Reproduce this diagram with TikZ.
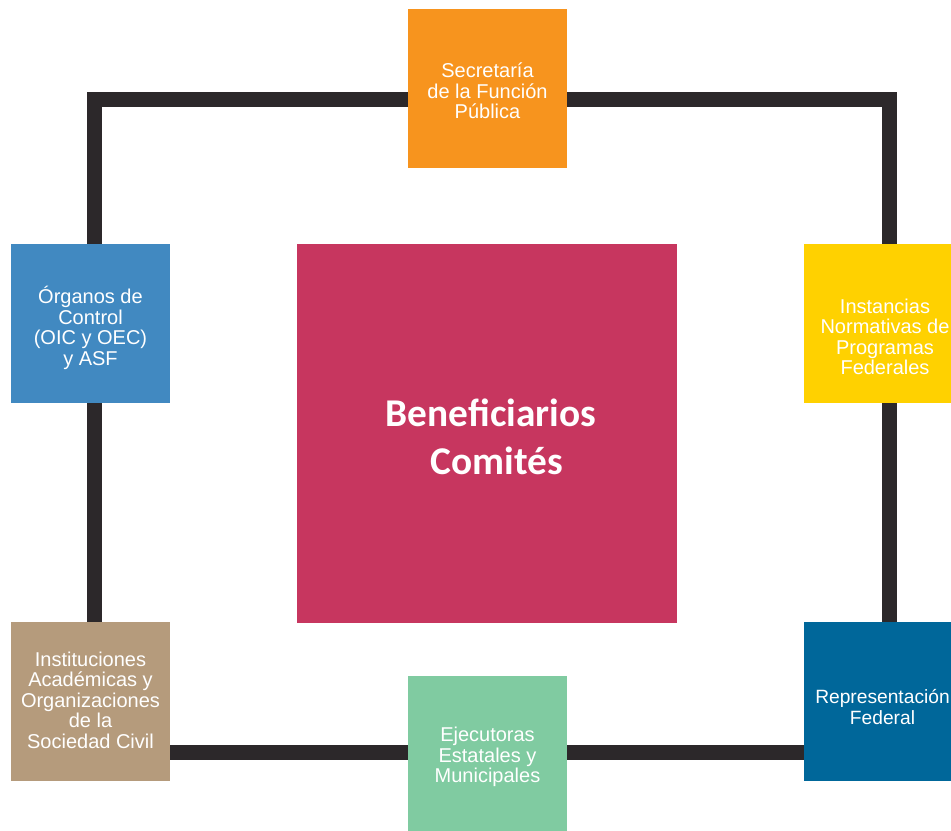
\documentclass[tikz,border=0pt]{standalone}
\usepackage{fontspec}
\setmainfont{Liberation Sans}
\newfontfamily\titlefont{Carlito}
\usepackage{tikz}
\usetikzlibrary{positioning}

\definecolor{frameGray}{RGB}{44,40,42}
\definecolor{sfpOrange}{RGB}{247,148,30}
\definecolor{oicBlue}{RGB}{65,137,193}
\definecolor{normYellow}{RGB}{255,209,0}
\definecolor{osTan}{RGB}{181,155,124}
\definecolor{repBlue}{RGB}{0,103,154}
\definecolor{ejeGreen}{RGB}{128,203,161}
\definecolor{benCrimson}{RGB}{199,54,95}

\tikzset{
	unitbox/.style={fill=#1, draw=none, minimum width=119.25pt, minimum height=119.25pt, inner sep=0pt},
	unittext/.style={text=white, align=center, inner sep=0pt, font=\fontsize{15}{15.4}\selectfont},
	frame/.style={draw=frameGray, line width=11.25pt, line join=miter},
}

\begin{document}
\begin{tikzpicture}[x=0.75pt,y=0.75pt,yscale=-1,xscale=1]
	\useasboundingbox (0,0) rectangle (951,831);

	%Frame behind the boxes
	\coordinate (frameTL) at (94,99.5);
	\coordinate (frameBR) at (889,752);
	\draw [frame] (frameTL) rectangle (frameBR);

	%Shape: Rectangle (centre)
	\node [unitbox=benCrimson, minimum width=285pt, minimum height=284.25pt] (benef) at (487,433.5) {};
	%Shape: Rectangles (round the frame)
	\node [unitbox=sfpOrange] (sfp) at (487.5,89) {};
	\node [unitbox=oicBlue] (oic) at (90.5,323.5) {};
	\node [unitbox=normYellow] (norm) at (883.5,323.5) {};
	\node [unitbox=osTan] (osc) at (90.5,701.5) {};
	\node [unitbox=repBlue] (rep) at (883.5,701.5) {};
	\node [unitbox=ejeGreen] (eje) at (487.5,755.5) {};

	% Text Node
	\node [text=white, align=center, inner sep=0pt, font=\titlefont\bfseries\fontsize{29.5}{36}\selectfont] (benef-txt) at (491,437) {Beneficiarios\\\hspace*{0.3em}Comités};
	% Text Node
	\node [unittext] (sfp-txt) at (487.5,91) {Secretaría\\de la Función\\Pública};
	% Text Node
	\node [unittext] (oic-txt) at (90.5,328) {Órganos de\\Control\\(OIC y OEC)\\y ASF};
	% Text Node
	\node [unittext] (norm-txt) at (885,337) {Instancias\\Normativas de\\Programas\\Federales};
	% Text Node
	\node [unittext] (osc-txt) at (90.5,700) {Instituciones\\Académicas y\\Organizaciones\\de la\\Sociedad Civil};
	% Text Node
	\node [unittext, font=\fontsize{14.4}{15.4}\selectfont] (rep-txt) at (882.5,707) {Representación\\Federal};
	% Text Node
	\node [unittext] (eje-txt) at (487.5,757) {Ejecutoras\\Estatales y\\Municipales};
\end{tikzpicture}
\end{document}
